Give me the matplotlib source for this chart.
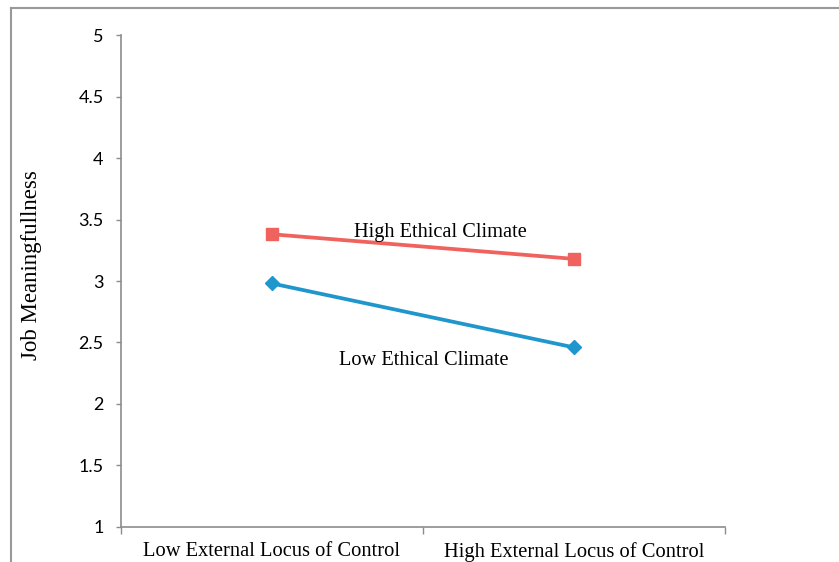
import matplotlib
matplotlib.use("Agg")
from matplotlib import pyplot as plt
from matplotlib.lines import Line2D


categories = ["Low External Locus of Control", "High External Locus of Control"]
high_ethical = [3.38, 3.18]
low_ethical = [2.98, 2.46]
y_ticks = [1, 1.5, 2, 2.5, 3, 3.5, 4, 4.5, 5]
y_tick_labels = ["1", "1.5", "2", "2.5", "3", "3.5", "4", "4.5", "5"]

RED = "#F0625D"
BLUE = "#1F96CC"
GRAY = "#8C8C8C"
SERIF = ["Liberation Serif", "DejaVu Serif"]


def plot_graph(out_path: str):
    fig = plt.figure(figsize=(8.39, 5.62), dpi=100)
    ax = fig.add_axes([0.1442, 0.0623, 0.7199, 0.8754])

    x = list(range(len(categories)))
    ax.plot(x, high_ethical, color=RED, lw=2.7, marker="s", ms=9,
            solid_capstyle="butt")
    ax.plot(x, low_ethical, color=BLUE, lw=2.7, marker="D", ms=7.5,
            solid_capstyle="butt")

    ax.text(0.556, 3.395, "High Ethical Climate", family=SERIF, fontsize=14.7,
            ha="center", va="center")
    ax.text(0.503, 2.35, "Low Ethical Climate", family=SERIF, fontsize=14.7,
            ha="center", va="center")

    ax.set_xlim(-0.5, len(categories) - 0.5)
    ax.set_ylim(1, 5)

    ax.set_yticks(y_ticks)
    ax.set_yticklabels(y_tick_labels, family="Lato", fontsize=13)
    ax.tick_params(axis="y", length=3.5, color=GRAY, width=1, pad=9)

    ax.set_xticks(x)
    ax.set_xticklabels(categories, family=SERIF, fontsize=14.8)
    ax.set_xticks([-0.5, 0.5, 1.5], minor=True)
    ax.tick_params(axis="x", which="major", length=0, pad=11)
    ax.tick_params(axis="x", which="minor", length=5, color=GRAY, width=1)

    ax.set_ylabel("Job Meaningfullness", family=SERIF, fontsize=16.5)
    ax.yaxis.set_label_coords(-0.13, 0.533)

    for side in ["top", "right"]:
        ax.spines[side].set_visible(False)
    for side in ["left", "bottom"]:
        ax.spines[side].set_color(GRAY)
        ax.spines[side].set_linewidth(1.2)

    # outer chart frame, cut off on the right and bottom
    fig.add_artist(Line2D([0.0137, 1.0], [0.9858, 0.9858], color="#999999", lw=1.5))
    fig.add_artist(Line2D([0.0137, 0.0137], [0.0, 0.9858], color="#999999", lw=1.5))

    fig.savefig(out_path, dpi=100)


if __name__ == "__main__":
    plot_graph("out.png")
